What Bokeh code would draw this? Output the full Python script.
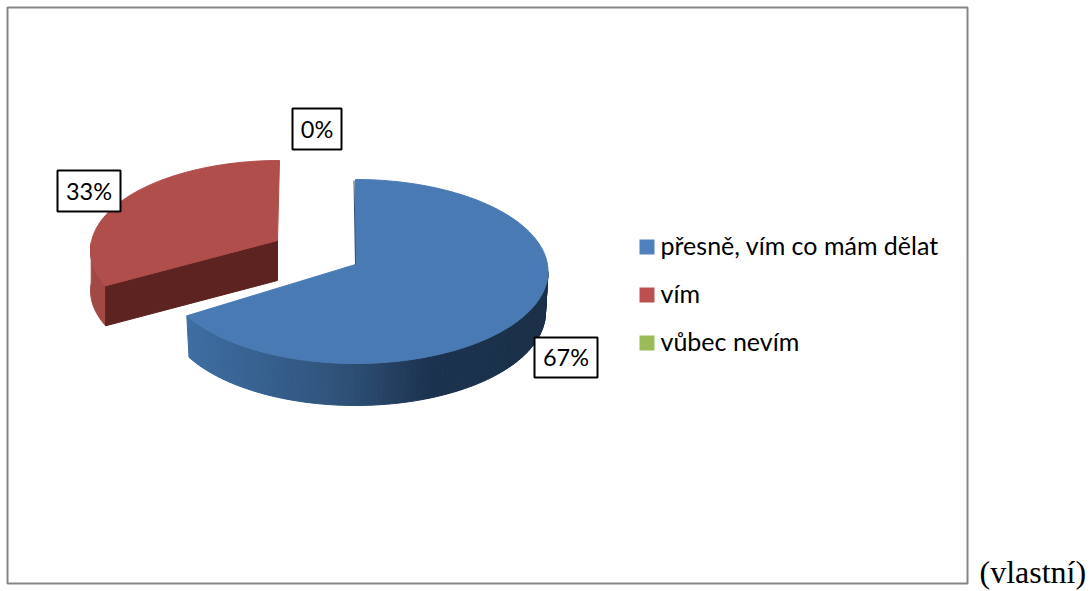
import numpy as np
from bokeh.plotting import figure
from bokeh.core.properties import value
from bokeh.embed import file_html
from bokeh.resources import INLINE

# --- data ---
categories = ["přesně, vím co mám dělat", "vím", "vůbec nevím"]
percent = [67, 33, 0]
legend_colors = ["#4F81BD", "#BC504E", "#9BBB59"]
footnote = "(vlastní)"

# --- style ---
FRAME = "#868686"
TOP_BLUE = "#4A7AB3"
TOP_RED = "#B04E4B"
RED_WALL = "#5C2320"
RED_SIDE = "#A24946"
GRAD_X = [187, 300, 350, 430, 548]
GRAD_R = [62, 52, 46, 28, 26]
GRAD_G = [110, 90, 80, 51, 48]
GRAD_B = [163, 134, 117, 80, 72]
FONT = value("Lato")

W, H = 1091, 591
p = figure(width=W, height=H, x_range=(0, W), y_range=(H, 0), x_axis_type=None, y_axis_type=None,
           toolbar_location=None, output_backend="svg", min_border=0, outline_line_color=None,
           background_fill_color="white", border_fill_color="white")
p.grid.visible = False
p.styles = {"position": "absolute", "left": "0px", "top": "0px"}

# frame
p.quad(left=[7], right=[967], top=[7], bottom=[583], fill_color="white", line_color=FRAME, line_width=2)


def ell(th, cx, cy, rx, ry):
    r = np.radians(th)
    return cx + rx * np.sin(r), cy - ry * np.cos(r)


def put_text(x, baseline, s, size, font=FONT, align="left"):
    # the browser draws the alphabetic baseline about 0.4em below the anchor here
    p.text([x], [baseline - 0.4 * size], text=[s], text_font=font, text_font_size=f"{size}px",
           text_color="black", text_align=align, text_baseline="alphabetic")


# cumulative clockwise angles from 12 o'clock
angles = np.cumsum([0] + percent) * 3.6
a_blue0, a_blue1, a_red1 = angles[0], angles[1], angles[2]

# --- red, exploded slice ---
RCX, RCY, RRX, RRY = 279, 250, 189, 90
RAX, RAY = 277, 240
DEPTH = 40
red_start = a_blue1 + 5.7  # perspective correction of the pulled-out slice
th = np.linspace(red_start, a_red1, 120)
xt, yt = ell(th, RCX, RCY, RRX, RRY)
# outer side
ths = np.linspace(red_start, 275, 30)
xs, ys = ell(ths, RCX, RCY, RRX, RRY)
p.patch(list(xs) + list(xs[::-1]), list(ys) + list(ys[::-1] + DEPTH), fill_color=RED_SIDE, line_color=RED_SIDE)
# front wall
p.patch([xt[0], RAX, RAX, xt[0]], [yt[0], RAY, RAY + DEPTH, yt[0] + DEPTH], fill_color=RED_WALL, line_color=RED_WALL)
# top
p.patch([RAX] + list(xt), [RAY] + list(yt), fill_color=TOP_RED, line_color=TOP_RED)

# --- blue slice ---
BCX, BCY, BRX, BRY = 355, 271, 192.5, 92
BBX, BBY, BBRX, BBRY = 355, 312, 190, 93
BAX, BAY = 355, 264
th = np.linspace(a_blue1, 90, 90)
xa, ya = ell(th, BCX, BCY, BRX, BRY)
xb, yb = ell(th, BBX, BBY, BBRX, BBRY)
for i in range(len(th) - 1):
    mx = (xa[i] + xa[i + 1]) / 2
    c = (int(np.interp(mx, GRAD_X, GRAD_R)), int(np.interp(mx, GRAD_X, GRAD_G)), int(np.interp(mx, GRAD_X, GRAD_B)))
    col = "#%02x%02x%02x" % c
    p.patch([xa[i], xa[i + 1], xb[i + 1], xb[i]], [ya[i], ya[i + 1], yb[i + 1], yb[i]], fill_color=col, line_color=col, line_width=1)

th = np.linspace(a_blue0, a_blue1, 240)
xt, yt = ell(th, BCX, BCY, BRX, BRY)
p.patch([BAX] + list(xt), [BAY] + list(yt), fill_color=TOP_BLUE, line_color=TOP_BLUE)
p.line([xt[0] - 1.5, BAX], [yt[0] + 1, BAY], line_color="#2F5078", line_width=1)

# --- data labels ---
label_boxes = [(534, 597, 337, 377, 565.5, 366), (57, 120, 170, 211, 88.5, 200), (292, 341, 108, 149, 316.5, 138)]
for v, (l, r, t, b, tx, ty) in zip(percent, label_boxes):
    p.quad(left=[l], right=[r], top=[t], bottom=[b], fill_color="white", line_color="black", line_width=2)
    put_text(tx, ty, f"{v}%", 23.5, align="center")

# --- legend ---
leg_top = [239, 287, 335]
leg_base = [254, 302, 350]
for name, col, t, bl in zip(categories, legend_colors, leg_top, leg_base):
    p.quad(left=[639], right=[654], top=[t], bottom=[t + 15], fill_color=col, line_color=None)
    put_text(660, bl, name, 25)

# footnote
put_text(979, 584, footnote, 32, font=value("Liberation Serif"))

open("out.html", "w").write(file_html(p, INLINE))
